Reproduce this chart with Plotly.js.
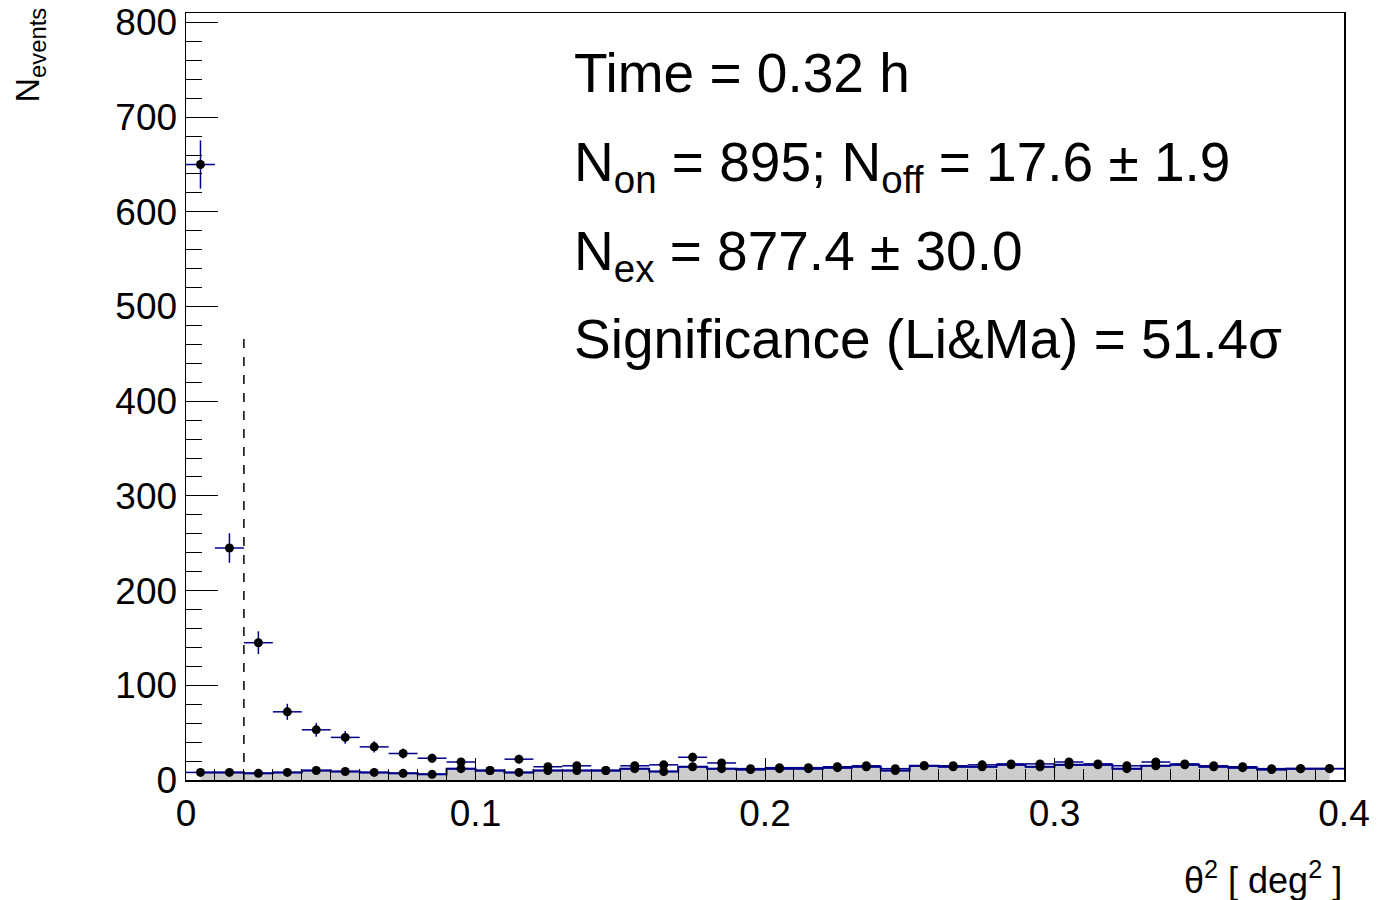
<!DOCTYPE html>
<html><head><meta charset="utf-8">
<script src="https://cdn.plot.ly/plotly-3.0.1.min.js"></script>
<style>body{margin:0}</style></head>
<body><div id="plot" style="width:1389px;height:900px"></div>
<script>
var binCenters = [];
for (var i = 0; i < 40; i++) binCenters.push(+(0.005 + 0.01 * i).toFixed(3));
var onCounts = [650, 245, 145, 72, 53, 45, 35, 28, 23, 19, 10, 22, 14, 15, 10, 15, 16, 24, 18, 12,
                13, 13, 14, 15, 12, 15, 15, 16, 17, 17, 19, 17, 15, 19, 17, 15, 14, 12, 12, 12];
var offCounts = [8, 8, 7, 8, 10, 9, 8, 7, 6, 12, 10, 8, 10, 10, 10, 12, 9, 14, 12, 11,
                 12, 12, 13, 14, 10, 15, 14, 14, 16, 14, 16, 16, 12, 15, 16, 14, 13, 11, 12, 12];
var offErr = offCounts.map(function(v) { return Math.sqrt(v) * 0.3; });
var onErr = onCounts.map(function(v) { return Math.sqrt(v); });

var font = 'Liberation Sans, Arial, sans-serif';

var traces = [
  { x: binCenters, y: offCounts, type: 'scatter', mode: 'lines', line: { shape: 'hvh', color: '#00008b', width: 2 },
    fill: 'tozeroy', fillcolor: '#cccccc', hoverinfo: 'skip' },
  { x: binCenters, y: offCounts, type: 'scatter', mode: 'markers', marker: { color: 'black', size: 9 },
    error_x: { type: 'constant', value: 0.005, color: '#00008b', thickness: 1.5, width: 0 },
    error_y: { type: 'data', array: offErr, color: '#00008b', thickness: 1.5, width: 0 } },
  { x: binCenters, y: onCounts, type: 'scatter', mode: 'markers', marker: { color: 'black', size: 9 },
    error_x: { type: 'constant', value: 0.005, color: '#00008b', thickness: 1.5, width: 0 },
    error_y: { type: 'data', array: onErr, color: '#00008b', thickness: 1.5, width: 0 } },
  { x: [0.02, 0.02], y: [0, 475], type: 'scatter', mode: 'lines', line: { color: 'black', dash: 'dash', width: 1.5 } }
];

function ann(y, text) {
  return { xref: 'paper', yref: 'paper', x: 0.333, y: y, xanchor: 'left', yanchor: 'middle',
           text: text, showarrow: false, font: { family: font, size: 55, color: 'black' } };
}

var layout = {
  showlegend: false,
  margin: { l: 186, r: 45, t: 13, b: 120 },
  paper_bgcolor: 'white', plot_bgcolor: 'white',
  font: { family: font, size: 36, color: 'black' },
  xaxis: { range: [0, 0.4], dtick: 0.1, tick0: 0, ticks: 'inside', ticklen: 22, tickcolor: 'black',
           minor: { dtick: 0.01, ticks: 'inside', ticklen: 11, tickcolor: 'black' },
           showgrid: false, zeroline: false, showline: true, mirror: true, linecolor: 'black', linewidth: 1.5,
           tickformat: '.1~f', tickfont: { size: 37 } },
  yaxis: { range: [0, 810], dtick: 100, ticks: 'inside', ticklen: 32, tickcolor: 'black',
           minor: { dtick: 20, ticks: 'inside', ticklen: 16, tickcolor: 'black' },
           showgrid: false, zeroline: false, showline: true, mirror: true, linecolor: 'black', linewidth: 1.5,
           tickfont: { size: 37 } },
  annotations: [
    ann(0.922, 'Time = 0.32 h'),
    ann(0.80, 'N<sub>on</sub> = 895; N<sub>off</sub> = 17.6 ± 1.9'),
    ann(0.685, 'N<sub>ex</sub> = 877.4 ± 30.0'),
    ann(0.575, 'Significance (Li&amp;Ma) = 51.4σ'),
    { xref: 'paper', yref: 'paper', x: 1, y: -0.095, xanchor: 'right', yanchor: 'top', showarrow: false,
      text: 'θ<sup>2</sup> [ deg<sup>2</sup> ]', font: { family: font, size: 36 } },
    { xref: 'paper', yref: 'paper', x: -0.135, y: 1.01, xanchor: 'center', yanchor: 'top', showarrow: false, textangle: -90,
      text: 'N<sub>events</sub>', font: { family: font, size: 34 } }
  ]
};

Plotly.newPlot('plot', traces, layout, { staticPlot: true });
</script></body></html>
